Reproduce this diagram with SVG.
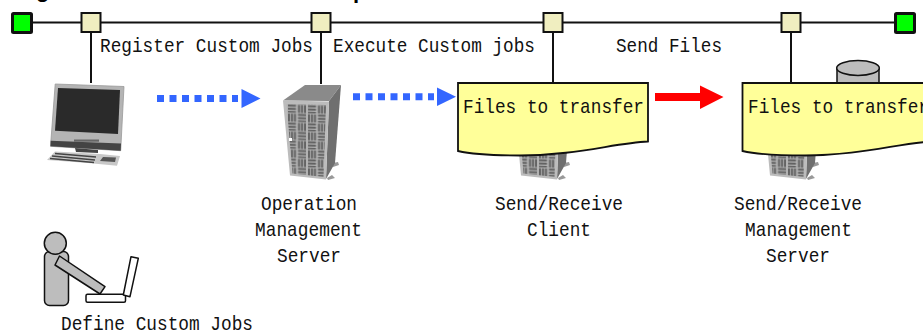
<svg xmlns="http://www.w3.org/2000/svg" width="923" height="336" viewBox="0 0 923 336">
<style>
.t{font-family:"Liberation Mono","DejaVu Sans Mono",monospace;font-size:21px;fill:#111}
.h{font-family:"Liberation Sans",Arial,sans-serif;font-size:22px;font-weight:bold;fill:#000}
.ln{stroke:#111;stroke-width:2;fill:none}
.b{fill:#f0eec0;stroke:#111;stroke-width:2}
.g{fill:#00ff00;stroke:#111;stroke-width:3}
.note{fill:#ffff99;stroke:#111;stroke-width:1.8}
.o{stroke:#111;stroke-width:1.5;stroke-linejoin:round}
</style>
<defs>
<pattern id="weave" width="20" height="18" patternUnits="userSpaceOnUse" patternTransform="translate(287 104) skewY(2)">
<rect width="20" height="18" fill="#b4b4b4"/>
<g fill="#606060">
<rect x="1" y="0.5" width="8" height="2"/><rect x="1" y="3.7" width="8" height="2"/><rect x="1" y="6.9" width="8" height="1.6"/>
<rect x="11" y="0.5" width="2" height="8"/><rect x="14" y="0.5" width="2" height="8"/><rect x="17" y="0.5" width="2" height="8"/>
<rect x="1" y="9.5" width="2" height="8"/><rect x="4" y="9.5" width="2" height="8"/><rect x="7" y="9.5" width="2" height="8"/>
<rect x="11" y="9.5" width="8" height="2"/><rect x="11" y="12.7" width="8" height="2"/><rect x="11" y="15.9" width="8" height="1.6"/>
</g>
</pattern>
<symbol id="server" overflow="visible" width="923" height="336" viewBox="0 0 923 336">
<path d="M333 163l5 -1 1 3 -6 2zM327 178l5 -3 3 3 -7 2z" fill="#999"/>
<polygon points="283,100.5 305,85 341,85 329,101" fill="#8a8a8a"/>
<polygon points="329,101 341,85 335,163 326,179" fill="#6f6f6f"/>
<polygon points="283,100.5 329,101.5 326,179.5 290,175.5" fill="#bcbcbc"/>
<polygon points="286.5,104 326,105 323.5,177 292.5,173.5" fill="url(#weave)"/>
<rect x="289" y="138" width="3" height="3" fill="#fff"/>
</symbol>
</defs>
<text class="h" x="36" y="-3">g</text>
<text class="h" x="353" y="-2">p</text>
<g id="connectors">
<path class="ln" d="M21 22.5H905M91 32V83M321 32V84M553 32V83M791 32V83"/>
<path d="M157 98.5H238" stroke="#3366ff" stroke-width="7" stroke-dasharray="7 5.5" fill="none"/>
<polygon points="241.5,89 260.5,98.5 241.5,108" fill="#3366ff"/>
<path d="M353 96.7H434" stroke="#3366ff" stroke-width="7" stroke-dasharray="7 5.5" fill="none"/>
<polygon points="437,87.5 456,96.7 437,106" fill="#3366ff"/>
<polygon points="655,93 700,93 700,85.5 723.5,97 700,109 700,101 655,101" fill="#ff0000"/>
</g>
<g id="bus-nodes">
<rect id="start" class="g" x="12.5" y="13.5" width="19" height="19" rx="1"/>
<rect id="n1" class="b" x="81.5" y="13" width="19" height="19"/>
<rect id="n2" class="b" x="311.5" y="13" width="19" height="19"/>
<rect id="n3" class="b" x="543.5" y="13" width="19" height="19"/>
<rect id="n4" class="b" x="781.5" y="13" width="19" height="19"/>
<rect id="end" class="g" x="895.5" y="13.5" width="19" height="19" rx="1"/>
</g>
<g id="labels">
<text class="t" x="100" y="52" textLength="213" lengthAdjust="spacingAndGlyphs">Register Custom Jobs</text>
<text class="t" x="333" y="52" textLength="202" lengthAdjust="spacingAndGlyphs">Execute Custom jobs</text>
<text class="t" x="616" y="52" textLength="106" lengthAdjust="spacingAndGlyphs">Send Files</text>
</g>
<g id="pc">
<polygon points="55.2,84 124,86.5 120.7,150.7 50.5,146.3" fill="#b4b4b4" stroke="#999" stroke-width="0.8"/>
<polygon points="50.7,140.7 121,143.5 120.7,150.7 50.5,146.3" fill="#444"/>
<polygon points="58,88 120,90 118,134 55,130.7" fill="#2a2a2a"/>
<rect x="74" y="139.5" width="25" height="2.2" fill="#666"/>
<polygon points="75,148 98,150 98,153 76,152" fill="#444"/>
<polygon points="55,151.5 100,154 120,156 117,165.7 88,163 47,160" fill="#c8c8c8"/>
<path d="M55 153.5L96 157M52 156L95 160M50 158.5L94 162.5" stroke="#444" stroke-width="1.6" fill="none"/>
<polygon points="103,157 116,157.5 115,162 100,161" fill="#555"/>
</g>
<g id="operation-server">
<use href="#server"/>
<text class="t" x="261" y="210" textLength="96" lengthAdjust="spacingAndGlyphs">Operation</text>
<text class="t" x="255" y="236" textLength="107" lengthAdjust="spacingAndGlyphs">Management</text>
<text class="t" x="277" y="262" textLength="64" lengthAdjust="spacingAndGlyphs">Server</text>
</g>
<g id="client">
<use href="#server" x="231"/>
<path class="note" d="M458 83H648V141.5C615 143 575 155.5 520 155.5C495 155.5 475 155 458 151Z"/>
<text class="t" x="463" y="113" textLength="181" lengthAdjust="spacingAndGlyphs">Files to transfer</text>
<text class="t" x="495" y="210" textLength="128" lengthAdjust="spacingAndGlyphs">Send/Receive</text>
<text class="t" x="527" y="236" textLength="64" lengthAdjust="spacingAndGlyphs">Client</text>
</g>
<g id="management-server">
<use href="#server" x="480"/>
<path d="M837 68V90H879V68" fill="#bdbdbd" stroke="#111" stroke-width="1.5"/>
<ellipse cx="858" cy="68" rx="21.3" ry="7.5" fill="#bdbdbd" stroke="#111" stroke-width="1.5"/>
<path class="note" d="M742.5 83H932V141.5C900 143 860 155.5 805 155.5C780 155.5 760 155 742.5 151Z"/>
<text class="t" x="748" y="113" textLength="181" lengthAdjust="spacingAndGlyphs">Files to transfer</text>
<text class="t" x="734" y="210" textLength="128" lengthAdjust="spacingAndGlyphs">Send/Receive</text>
<text class="t" x="745" y="236" textLength="107" lengthAdjust="spacingAndGlyphs">Management</text>
<text class="t" x="766" y="262" textLength="64" lengthAdjust="spacingAndGlyphs">Server</text>
</g>
<g id="user">
<rect class="o" x="44.5" y="251.5" width="24" height="54" rx="5" fill="#bdbdbd"/>
<circle class="o" cx="55.3" cy="243.3" r="11" fill="#bdbdbd"/>
<polygon class="o" points="59.5,256 105,286.7 100,294 55,265" fill="#bdbdbd"/>
<rect class="o" x="86" y="294.3" width="39.5" height="8" rx="1.5" fill="#fff"/>
<polygon class="o" points="131,256.7 138.3,258.3 130,296.7 123.3,295" fill="#fff"/>
<text class="t" x="61" y="330" textLength="192" lengthAdjust="spacingAndGlyphs">Define Custom Jobs</text>
</g>
</svg>
